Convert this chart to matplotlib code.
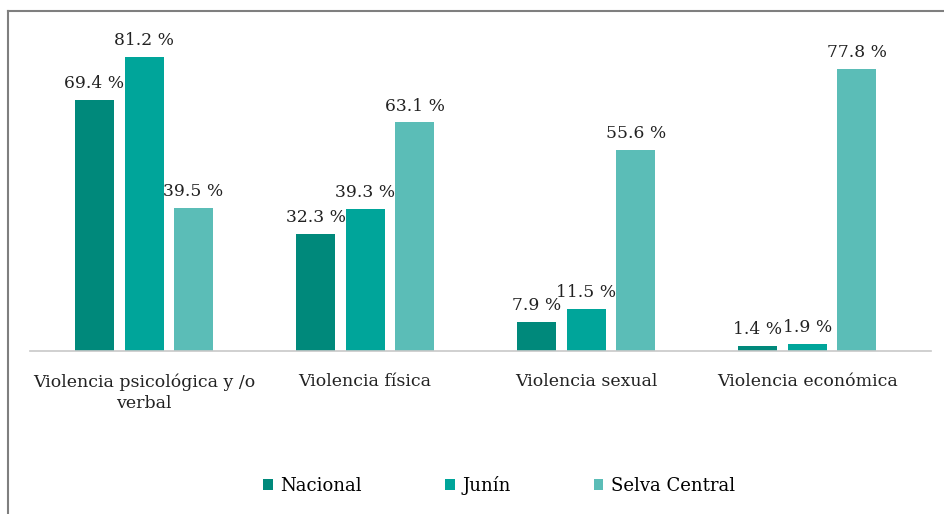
import numpy as np
import matplotlib
matplotlib.use("Agg")
import matplotlib.pyplot as plt
from matplotlib.lines import Line2D

# datos
categorias = ["Violencia psicológica y /o\nverbal", "Violencia física",
              "Violencia sexual", "Violencia económica"]
nacional = [69.4, 32.3, 7.9, 1.4]
junin = [81.2, 39.3, 11.5, 1.9]
selva = [39.5, 63.1, 55.6, 77.8]
series = ["Nacional", "Junín", "Selva Central"]
colores = ["#00897B", "#00A59A", "#5BBDB7"]

plt.rcParams["font.family"] = ["DejaVu Serif"]

fig = plt.figure(figsize=(9.45, 5.14), dpi=100)
ax = fig.add_axes([30 / 945, 163 / 514, 901 / 945, 331 / 514])

x = np.arange(len(categorias))
ancho = 0.176
paso = 0.224
for i, (vals, nombre, c) in enumerate(zip([nacional, junin, selva], series, colores)):
    pos = x + (i - 1) * paso
    ax.bar(pos, vals, width=ancho, color=c, label=nombre, zorder=2)
    for p, v in zip(pos, vals):
        ax.text(p, v + 2.2, f"{v} %", ha="center", va="bottom", fontsize=12.3, color="#222222")

ax.set_xlim(-0.516, 3.56)
ax.set_ylim(0, 91.4)
ax.set_yticks([])
ax.set_xticks(x)
ax.set_xticklabels(categorias, fontsize=12.5, color="#222222", linespacing=1.3)
ax.tick_params(axis="x", length=0, pad=16)
for s in ["top", "right", "left"]:
    ax.spines[s].set_visible(False)
ax.spines["bottom"].set_color("#c8c8c8")
ax.spines["bottom"].set_linewidth(1.2)

fig.legend(loc="center", bbox_to_anchor=(0.528, 0.056), ncol=3, frameon=False,
           fontsize=13, handlelength=0.55, handleheight=0.55, handletextpad=0.4,
           columnspacing=4.6)

# marco
fig.add_artist(Line2D([8 / 945, 8 / 945], [0, 1 - 11 / 514], color="#7f7f7f", lw=1.5))
fig.add_artist(Line2D([8 / 945, 1], [1 - 11 / 514, 1 - 11 / 514], color="#7f7f7f", lw=1.5))

fig.savefig("out.png", dpi=100)
